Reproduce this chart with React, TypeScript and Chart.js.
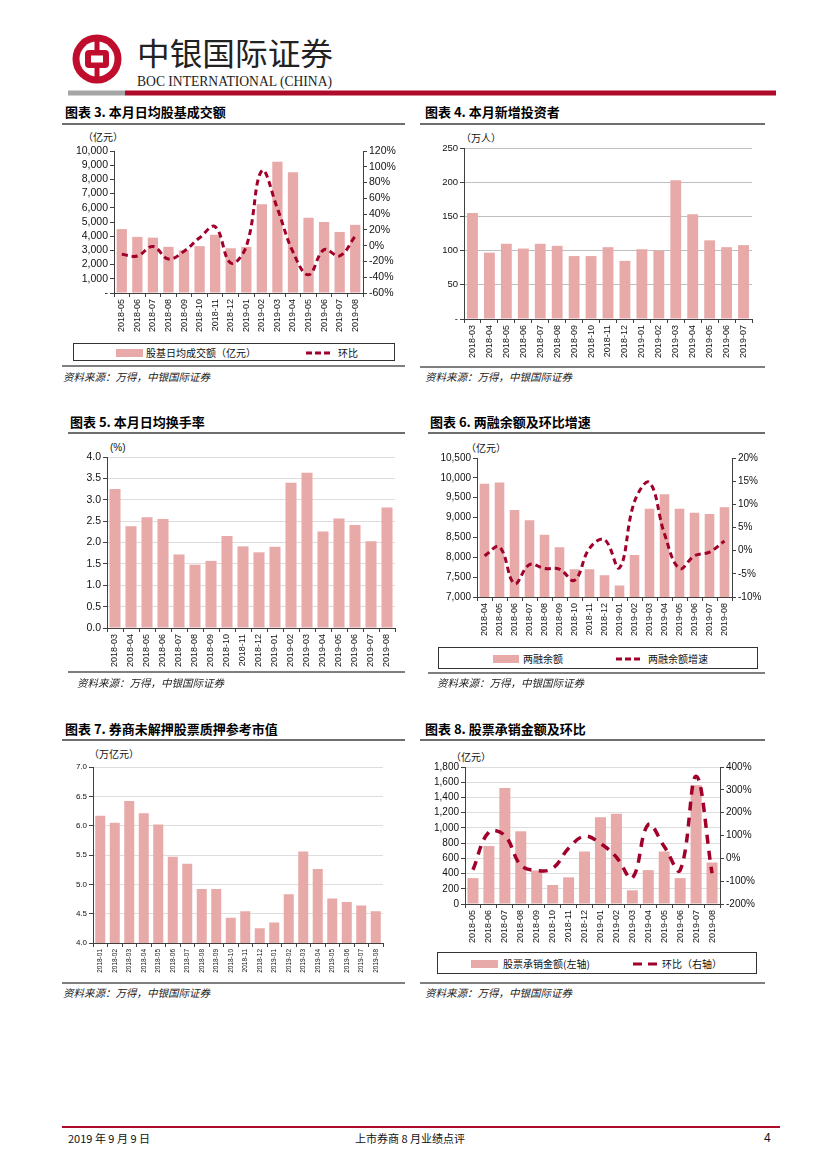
import React, { useEffect, useRef } from "react";
import { Chart, registerables } from "chart.js";

Chart.register(...registerables);

// ---------------- data ----------------
const months3 = ["2018-05","2018-06","2018-07","2018-08","2018-09","2018-10","2018-11","2018-12","2019-01","2019-02","2019-03","2019-04","2019-05","2019-06","2019-07","2019-08"];
const turnover3 = [4500, 3950, 3900, 3250, 3000, 3300, 4100, 3150, 3250, 6250, 9250, 8500, 5300, 5000, 4300, 4800];
const turnoverMoM3 = [-11, -13, -1, -17, -7, 10, 24, -22, -1, 95, 47, -8, -37, -5, -13, 12];

const months4 = ["2018-03","2018-04","2018-05","2018-06","2018-07","2018-08","2018-09","2018-10","2018-11","2018-12","2019-01","2019-02","2019-03","2019-04","2019-05","2019-06","2019-07"];
const investors4 = [155, 97, 110, 103, 110, 107, 92, 92, 105, 85, 102, 100, 203, 153, 115, 105, 108];

const months5 = ["2018-03","2018-04","2018-05","2018-06","2018-07","2018-08","2018-09","2018-10","2018-11","2018-12","2019-01","2019-02","2019-03","2019-04","2019-05","2019-06","2019-07","2019-08"];
const turnoverRate5 = [3.25, 2.38, 2.59, 2.55, 1.72, 1.48, 1.57, 2.15, 1.91, 1.77, 1.90, 3.40, 3.63, 2.26, 2.56, 2.41, 2.03, 2.82];

const months6 = ["2018-04","2018-05","2018-06","2018-07","2018-08","2018-09","2018-10","2018-11","2018-12","2019-01","2019-02","2019-03","2019-04","2019-05","2019-06","2019-07","2019-08"];
const margin6 = [9850, 9880, 9190, 8930, 8570, 8250, 7700, 7700, 7550, 7290, 8060, 9220, 9590, 9220, 9120, 9090, 9260];
const marginMoM6 = [-1.1, 0.8, -7.1, -3.0, -3.85, -4.0, -6.4, 0.5, 2.4, -3.7, 10.6, 14.7, 3.6, -3.85, -1.1, -0.3, 2.1];

const months7 = ["2018-01","2018-02","2018-03","2018-04","2018-05","2018-06","2018-07","2018-08","2018-09","2018-10","2018-11","2018-12","2019-01","2019-02","2019-03","2019-04","2019-05","2019-06","2019-07","2019-08"];
const pledge7 = [6.17, 6.05, 6.42, 6.21, 6.02, 5.47, 5.35, 4.92, 4.92, 4.43, 4.54, 4.25, 4.35, 4.83, 5.56, 5.26, 4.76, 4.70, 4.64, 4.54];

const months8 = ["2018-05","2018-06","2018-07","2018-08","2018-09","2018-10","2018-11","2018-12","2019-01","2019-02","2019-03","2019-04","2019-05","2019-06","2019-07","2019-08"];
const underwriting8 = [340, 762, 1525, 955, 440, 250, 350, 690, 1140, 1185, 180, 445, 690, 340, 1560, 545];
const underwritingMoM8 = [-50, 115, 100, -30, -53, -44, 44, 97, 65, 5, -86, 148, 52, -52, 360, -65];

// ---------------- styles ----------------
const BAR = "#E8A9A9";
const LINE = "#A0002A";
const AXIS = "#404040";
const RED = "#AE0A2A";
const TICKFONT = '"Liberation Sans", Arial, sans-serif';
const CJK = '"Noto Sans CJK SC", "Noto Sans", sans-serif';

type Axis = { min: number; max: number; step: number; fmt: (v: number) => string };
type Spec = {
  labels: string[];
  bars: number[];
  line?: number[];
  left: Axis;
  right?: Axis;
  grid?: string;
  barPct: number;
  dash?: number[];
  lineWidth?: number;
  yFont: number;
  xFont: number;
  L: number; R: number; T: number; B: number;
  leftW: number; rightW: number; padTop: number; xH: number;
};

const thousands = (v: number) => v.toLocaleString("en-US");

function ChartBox({ spec }: { spec: Spec }) {
  const ref = useRef<HTMLCanvasElement>(null);
  const x0 = spec.L - spec.leftW;
  const y0 = spec.T - spec.padTop;
  const w = spec.R + spec.rightW - x0;
  const h = spec.B + spec.xH - y0;
  useEffect(() => {
    const datasets: any[] = [];
    if (spec.line) {
      datasets.push({
        type: "line", label: "line", data: spec.line, yAxisID: "y1",
        borderColor: LINE, borderWidth: spec.lineWidth || 3, borderDash: spec.dash || [6, 4],
        pointRadius: 0, tension: 0.4, fill: false, order: 0,
      });
    }
    datasets.push({
      type: "bar", label: "bar", data: spec.bars, yAxisID: "y",
      backgroundColor: BAR, barPercentage: spec.barPct, categoryPercentage: 1, order: 1,
    });
    const scales: any = {
      x: {
        offset: true,
        grid: { offset: true, drawOnChartArea: false, tickLength: 4, color: AXIS, tickColor: AXIS },
        border: { color: AXIS, width: 1 },
        ticks: {
          autoSkip: false, minRotation: 90, maxRotation: 90, padding: 2, color: "#111",
          font: { family: TICKFONT, size: spec.xFont },
        },
        afterFit: (s: any) => { s.height = spec.xH; },
      },
      y: {
        position: "left", min: spec.left.min, max: spec.left.max,
        grid: { drawOnChartArea: !!spec.grid, color: spec.grid || AXIS, tickColor: AXIS, tickLength: 4, lineWidth: 1 },
        border: { color: AXIS, width: 1 },
        ticks: {
          stepSize: spec.left.step, color: "#111", padding: 2, autoSkip: false,
          font: { family: TICKFONT, size: spec.yFont },
          callback: (v: any) => spec.left.fmt(Number(v)),
        },
        afterFit: (s: any) => { s.width = spec.leftW; },
      },
    };
    if (spec.right) {
      scales.y1 = {
        position: "right", min: spec.right.min, max: spec.right.max,
        grid: { drawOnChartArea: false, color: AXIS, tickColor: AXIS, tickLength: 4 },
        border: { color: AXIS, width: 1 },
        ticks: {
          stepSize: spec.right.step, color: "#111", padding: 2, autoSkip: false,
          font: { family: TICKFONT, size: spec.yFont },
          callback: (v: any) => spec.right!.fmt(Number(v)),
        },
        afterFit: (s: any) => { s.width = spec.rightW; },
      };
    }
    const chart = new Chart(ref.current as HTMLCanvasElement, {
      type: "bar",
      data: { labels: spec.labels, datasets },
      options: {
        animation: false,
        responsive: false,
        maintainAspectRatio: false,
        layout: { padding: { top: spec.padTop, left: 0, bottom: 0, right: spec.right ? 0 : spec.rightW } },
        plugins: { legend: { display: false }, tooltip: { enabled: false } },
        scales,
      } as any,
    });
    return () => chart.destroy();
  }, []);
  return (
    <canvas ref={ref} width={w} height={h}
      style={{ position: "absolute", left: x0, top: y0, width: w, height: h }} />
  );
}

// ---------------- small layout helpers ----------------
function Txt({ x, y, children, size = 10, style = {} }: any) {
  return (
    <div style={{
      position: "absolute", left: x, top: y - 8, height: 16, lineHeight: "16px",
      whiteSpace: "nowrap", fontSize: size, fontFamily: CJK, color: "#111", ...style,
    }}>{children}</div>
  );
}
function HLine({ x1, x2, y, t = 2, color = "#7F7F7F" }: any) {
  return <div style={{ position: "absolute", left: x1, top: y - t / 2, width: x2 - x1, height: t, background: color }} />;
}
function Title({ x, y, text, x1, x2, ly }: any) {
  return (
    <>
      <Txt x={x} y={y} size={13} style={{ fontWeight: 700, color: "#000" }}>{text}</Txt>
      <HLine x1={x1} x2={x2} y={ly} t={2} color="#6E6E6E" />
    </>
  );
}
function Source({ x, y, x1, x2, ly }: any) {
  return (
    <>
      <HLine x1={x1} x2={x2} y={ly} t={2} color="#7F7F7F" />
      <Txt x={x} y={y} size={10.5} style={{ fontStyle: "italic", color: "#222" }}>资料来源：万得，中银国际证券</Txt>
    </>
  );
}
function Legend({ x1, x2, y1, y2, items }: any) {
  const cy = (y2 - y1) / 2;
  return (
    <div style={{ position: "absolute", left: x1, top: y1, width: x2 - x1, height: y2 - y1, border: "1px solid #333", boxSizing: "border-box", background: "#fff" }}>
      {items.map((it: any, i: number) => (
        <React.Fragment key={i}>
          {it.kind === "bar" ? (
            <div style={{ position: "absolute", left: it.sx - x1, top: cy - 4.5, width: it.sw, height: 8, background: BAR }} />
          ) : (
            <svg style={{ position: "absolute", left: it.sx - x1, top: cy - 4.5 }} width={it.sw} height={8}>
              <line x1={0} y1={4} x2={it.sw} y2={4} stroke={LINE} strokeWidth={3} strokeDasharray={it.dash} />
            </svg>
          )}
          <Txt x={it.tx - x1} y={cy - 0.5} size={10}>{it.text}</Txt>
        </React.Fragment>
      ))}
    </div>
  );
}

// ---------------- chart specs ----------------
const spec3: Spec = {
  labels: months3, bars: turnover3, line: turnoverMoM3,
  left: { min: 0, max: 10000, step: 1000, fmt: (v) => (v === 0 ? "-" : thousands(v)) },
  right: { min: -60, max: 120, step: 20, fmt: (v) => `${v}%` },
  barPct: 0.66, dash: [6, 4], lineWidth: 3, yFont: 10.5, xFont: 9,
  L: 114, R: 363, T: 151, B: 293, leftW: 54, rightW: 40, padTop: 10, xH: 48,
};
const spec4: Spec = {
  labels: months4, bars: investors4,
  left: { min: 0, max: 250, step: 50, fmt: (v) => (v === 0 ? "-" : String(v)) },
  grid: "#BFBFBF", barPct: 0.64, yFont: 9.5, xFont: 9,
  L: 464, R: 752, T: 148, B: 319, leftW: 40, rightW: 10, padTop: 10, xH: 44,
};
const spec5: Spec = {
  labels: months5, bars: turnoverRate5,
  left: { min: 0, max: 4, step: 0.5, fmt: (v) => v.toFixed(1) },
  grid: "#DDDDDD", barPct: 0.69, yFont: 10.5, xFont: 9,
  L: 107, R: 395, T: 457, B: 628, leftW: 40, rightW: 10, padTop: 10, xH: 44,
};
const spec6: Spec = {
  labels: months6, bars: margin6, line: marginMoM6,
  left: { min: 7000, max: 10500, step: 500, fmt: (v) => thousands(v) },
  right: { min: -10, max: 20, step: 5, fmt: (v) => `${v}%` },
  barPct: 0.64, dash: [6, 4], lineWidth: 3, yFont: 10, xFont: 9,
  L: 477, R: 732, T: 458, B: 597, leftW: 52, rightW: 36, padTop: 10, xH: 48,
};
const spec7: Spec = {
  labels: months7, bars: pledge7,
  left: { min: 4, max: 7, step: 0.5, fmt: (v) => v.toFixed(1) },
  grid: "#DDDDDD", barPct: 0.69, yFont: 8, xFont: 6.5,
  L: 93, R: 383, T: 767, B: 943, leftW: 30, rightW: 10, padTop: 10, xH: 36,
};
const spec8: Spec = {
  labels: months8, bars: underwriting8, line: underwritingMoM8,
  left: { min: 0, max: 1800, step: 200, fmt: (v) => thousands(v) },
  right: { min: -200, max: 400, step: 100, fmt: (v) => `${v}%` },
  grid: "#DDDDDD", barPct: 0.69, dash: [9, 7], lineWidth: 3.5, yFont: 10, xFont: 9,
  L: 465, R: 720, T: 767, B: 904, leftW: 48, rightW: 44, padTop: 10, xH: 46,
};

function Header() {
  return (
    <svg style={{ position: "absolute", left: 0, top: 0 }} width={827} height={100}>
      <circle cx={97} cy={59} r={24.5} fill="#C00D2D" />
      <circle cx={97} cy={59} r={17.5} fill="#fff" />
      <rect x={94.5} y={41} width={5} height={36} fill="#C00D2D" />
      <rect x={85} y={50} width={24} height={18} rx={4} fill="#C00D2D" />
      <rect x={91} y={55.5} width={12} height={7} fill="#fff" />
      <text x={137} y={65} fontFamily={CJK} fontSize={31} fill="#222" textLength={196} lengthAdjust="spacingAndGlyphs">中银国际证券</text>
      <text x={137} y={86} fontFamily='"Liberation Serif", "DejaVu Serif", serif' fontSize={14.5} fill="#222" textLength={195} lengthAdjust="spacingAndGlyphs">BOC INTERNATIONAL (CHINA)</text>
      <rect x={68} y={90.5} width={57} height={5} fill="#A6A6A6" />
      <rect x={125} y={90.5} width={651} height={5} fill={RED} />
    </svg>
  );
}

export default function App() {
  return (
    <div style={{ position: "absolute", left: 0, top: 0, width: 827, height: 1169, background: "#fff", overflow: "hidden", fontFamily: CJK }}>
      <Header />

      {/* Chart 3 */}
      <Title x={65} y={112} text="图表 3. 本月日均股基成交额" x1={62} x2={405} ly={123.5} />
      <Txt x={83} y={137} size={10}>（亿元）</Txt>
      <ChartBox spec={spec3} />
      <Legend x1={73} x2={395} y1={343} y2={361} items={[
        { kind: "bar", sx: 115, sw: 27, tx: 145, text: "股基日均成交额（亿元）" },
        { kind: "line", sx: 305, sw: 27, tx: 337, text: "环比", dash: "6 3" },
      ]} />
      <Source x={63} y={377} x1={62} x2={405} ly={365.5} />

      {/* Chart 4 */}
      <Title x={425} y={112} text="图表 4. 本月新增投资者" x1={420} x2={765} ly={123.5} />
      <Txt x={461} y={138} size={10}>（万人）</Txt>
      <ChartBox spec={spec4} />
      <Source x={425} y={377} x1={420} x2={765} ly={366.5} />

      {/* Chart 5 */}
      <Title x={70} y={422} text="图表 5. 本月日均换手率" x1={68} x2={405} ly={433} />
      <Txt x={110} y={448} size={10} style={{ fontFamily: TICKFONT }}>(%)</Txt>
      <ChartBox spec={spec5} />
      <Source x={77} y={683} x1={68} x2={405} ly={672} />

      {/* Chart 6 */}
      <Title x={430} y={422} text="图表 6. 两融余额及环比增速" x1={428} x2={765} ly={433} />
      <Txt x={466} y={448} size={10}>（亿元）</Txt>
      <ChartBox spec={spec6} />
      <Legend x1={438} x2={758} y1={647} y2={669} items={[
        { kind: "bar", sx: 492, sw: 26, tx: 522, text: "两融余额" },
        { kind: "line", sx: 615, sw: 27, tx: 647, text: "两融余额增速", dash: "6 3" },
      ]} />
      <Source x={437} y={683} x1={428} x2={765} ly={673} />

      {/* Chart 7 */}
      <Title x={65} y={729} text="图表 7. 券商未解押股票质押参考市值" x1={62} x2={405} ly={740} />
      <Txt x={89} y={754} size={10}>（万亿元）</Txt>
      <ChartBox spec={spec7} />
      <Source x={63} y={993} x1={62} x2={405} ly={983} />

      {/* Chart 8 */}
      <Title x={425} y={729} text="图表 8. 股票承销金额及环比" x1={420} x2={765} ly={740} />
      <Txt x={451} y={757} size={10}>（亿元）</Txt>
      <ChartBox spec={spec8} />
      <Legend x1={437} x2={757} y1={952} y2={974} items={[
        { kind: "bar", sx: 470, sw: 27, tx: 502, text: "股票承销金额(左轴)" },
        { kind: "line", sx: 632, sw: 26, tx: 661, text: "环比（右轴）", dash: "9 6" },
      ]} />
      <Source x={425} y={993} x1={420} x2={765} ly={983} />

      {/* Footer */}
      <HLine x1={62} x2={780} y={1127} t={2} color={RED} />
      <Txt x={68} y={1138} size={11}>2019 年 9 月 9 日</Txt>
      <div style={{ position: "absolute", left: 310, width: 200, top: 1130, height: 16, lineHeight: "16px", textAlign: "center", fontSize: 11, fontFamily: CJK, color: "#111" }}>上市券商 8 月业绩点评</div>
      <Txt x={764} y={1138} size={12} style={{ fontFamily: TICKFONT }}>4</Txt>
    </div>
  );
}
